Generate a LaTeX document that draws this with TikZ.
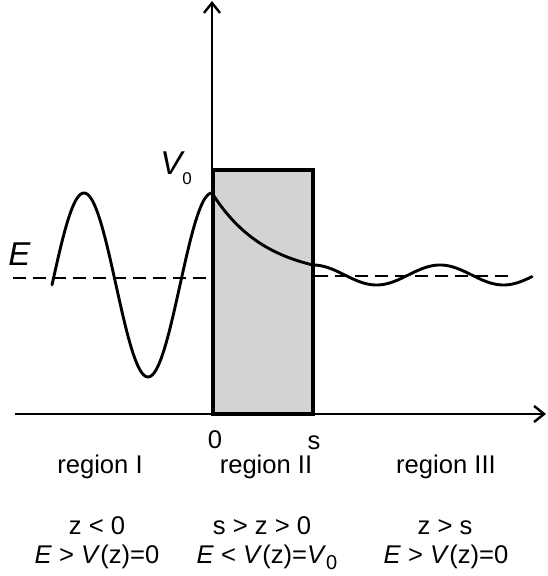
\documentclass[tikz,border=0pt]{standalone}
\usepackage{fontspec}
\setmainfont{Liberation Sans}
\usetikzlibrary{arrows.meta}
\definecolor{barriergray}{RGB}{209,211,212}
\newcommand{\regionfont}{\fontsize{12.8}{14.5}\selectfont}
\newcommand{\subzero}{\raisebox{-3pt}{\fontsize{10}{10}\selectfont 0}}

\begin{document}
\begin{tikzpicture}
                [x=0.5pt, y=-0.5pt,
                axisline/.style={line width=1.4pt, -{Straight Barb[length=5pt,width=8pt,line width=1.2pt]}},
                barrier/.style={draw=black, line width=1.6pt, fill=barriergray},
                elevel/.style={dash pattern=on 6.5pt off 3.5pt, line width=1.25pt},
                psi/.style={line width=1.45pt, line join=round, line cap=round},
                regiontext/.style={font=\regionfont, anchor=base, inner sep=0pt},
                symbol/.style={font=\fontsize{16.5}{18}\selectfont\itshape, anchor=base west, inner sep=0pt},
                ]
                \useasboundingbox (0,0) rectangle (547,576);
                \coordinate (O) at (212,414);
                \coordinate (xend) at (546,414);
                \coordinate (xstart) at (15,414);
                \coordinate (ytop) at (212,1);
                \coordinate (Eleft) at (13,278);  \coordinate (Emid) at (212,278);
                \coordinate (Eright) at (315,276); \coordinate (Eend) at (515,276);
                % barrier
                \draw[barrier] (213,170) rectangle (313,414);
                % axes
                \draw[axisline] (xstart) -- (xend);
                \draw[axisline] (O) -- (ytop);
                % energy level
                \draw[elevel] (Eleft) -- (Emid);
                \draw[elevel] (Eright) -- (Eend);
                % wave function
                \draw[psi] plot[domain=52:212, samples=120] (\x, {285-92*cos(2.8125*(\x-212))})
                    -- plot[domain=212:313, samples=60] (\x, {278-85*exp(-0.0186*(\x-212))})
                    -- plot[domain=313:532, samples=120] (\x, {275-10*cos(2.8346*(\x-440))});
                \node[symbol] (Elab) at (8,266) {E};
                \node[symbol] (Vlab) at (160,175) {V};
                \node[font=\fontsize{8.5}{9}\selectfont, anchor=base west, inner sep=0pt] (Vsub) at (182,185) {0};
                \node[regiontext] (zero) at (215,448) {0};
                \node[regiontext] (swidth) at (314,449) {s};
                \node[regiontext] (regI) at (100,473) {region I};
                \node[regiontext] (regII) at (266,473) {region II};
                \node[regiontext] (regIII) at (446,473) {region III};
                \node[regiontext] (condIa) at (97,534) {z < 0};
                \node[regiontext] (condIb) at (97,563) {\textit{E} > \textit{V}(z)=0};
                \node[regiontext] (condIIa) at (262,534) {s > z > 0};
                \node[regiontext] (condIIb) at (267,563) {\textit{E} < \textit{V}(z)=\textit{V}\subzero};
                \node[regiontext] (condIIIa) at (445,534) {z > s};
                \node[regiontext] (condIIIb) at (446,563) {\textit{E} > \textit{V}(z)=0};
            \end{tikzpicture}
\end{document}
